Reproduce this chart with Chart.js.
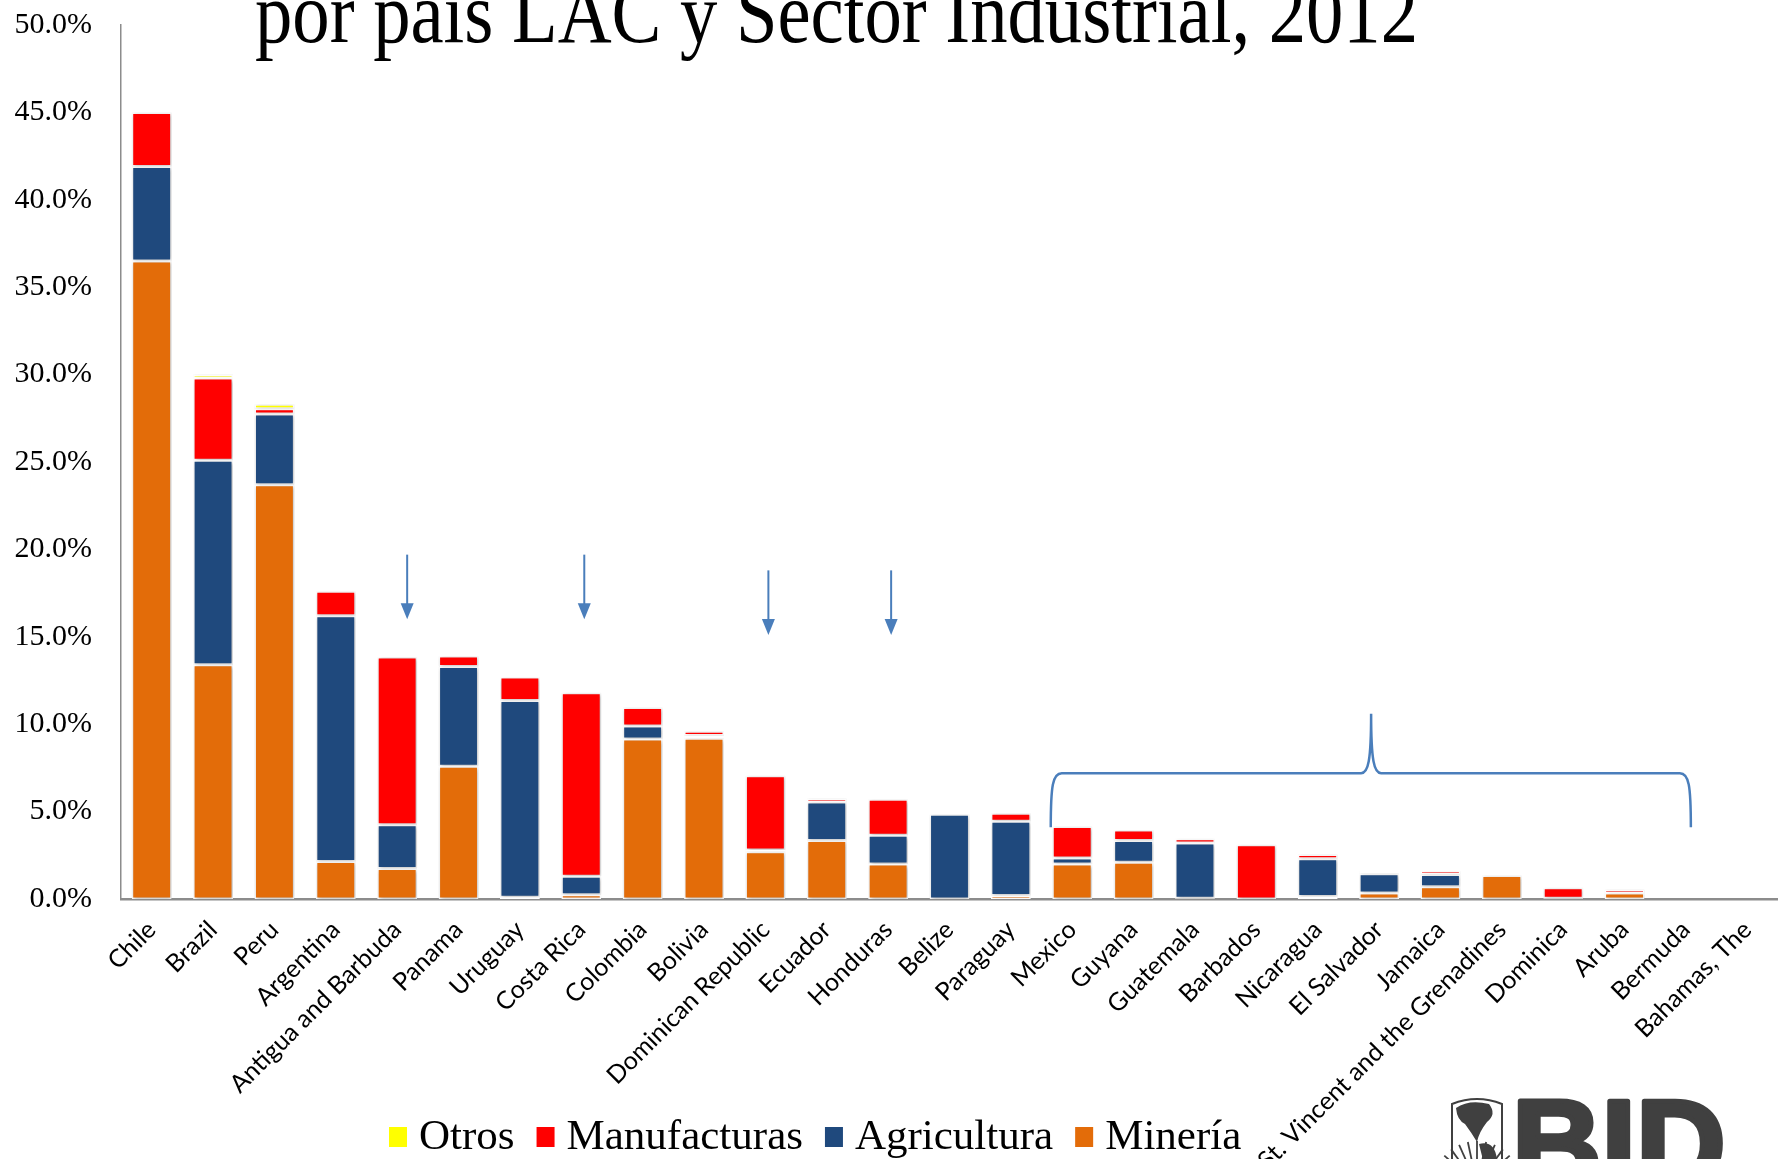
<!DOCTYPE html>
<html>
<head>
<meta charset="utf-8">
<script src="https://cdn.jsdelivr.net/npm/chart.js@4.4.1/dist/chart.umd.min.js"></script>
<style>
  html, body { margin: 0; padding: 0; background: #fff; overflow: hidden; }
  canvas { display: block; }
</style>
</head>
<body>
<canvas id="chart" width="1778" height="1159"></canvas>
<script>
// data (share of exports, %)
const countries = ['Chile','Brazil','Peru','Argentina','Antigua and Barbuda','Panama','Uruguay','Costa Rica',
  'Colombia','Bolivia','Dominican Republic','Ecuador','Honduras','Belize','Paraguay','Mexico','Guyana',
  'Guatemala','Barbados','Nicaragua','El Salvador','Jamaica','St. Vincent and the Grenadines','Dominica',
  'Aruba','Bermuda','Bahamas, The'];
const mineria      = [36.5,13.4,23.7,2.15,1.75,7.6,0.1,0.25,9.15,9.2,2.7,3.35,2.0,0,0.2,2.0,2.1,0.05,0,0.15,0.35,0.7,1.35,0.05,0.35,0,0];
const agricultura  = [5.4,11.7,4.05,14.05,2.5,5.7,11.25,1.05,0.75,0.15,0.1,2.2,1.65,4.85,4.25,0.35,1.25,3.15,0,2.15,1.1,0.7,0,0,0,0,0];
const manufacturas = [3.1,4.7,0.3,1.4,9.6,0.6,1.35,10.5,1.05,0.25,4.25,0.2,2.05,0,0.45,1.8,0.6,0.25,3.1,0.25,0.15,0.2,0,0.6,0.2,0,0];
const otros        = [0,0.2,0.25,0,0,0,0,0,0,0,0,0,0,0,0,0,0,0,0,0,0,0,0,0,0,0,0];
const yTicks = [0,5,10,15,20,25,30,35,40,45,50];

const titleText = 'por pais LAC y Sector Industrial, 2012';
const seriesNames = ['Minería','Agricultura','Manufacturas','Otros'];
const seriesColors = ['#E36C09','#1F497D','#FF0000','#FFFF00'];

// annotation arrows: category, top and tip (in % units)
const arrowCats = ['Antigua and Barbuda','Costa Rica','Dominican Republic','Honduras'];
const arrowTop  = [19.7, 19.7, 18.8, 18.8];
const arrowTip  = [16.0, 16.0, 15.1, 15.1];
// brace over the small economies (category index units / % units)
const braceX = [14.65, 19.87, 25.08];
const braceY = [4.1, 7.2, 10.6];

const ANNOT = '#4A7EBB';

const extras = {
  id: 'extras',
  beforeDatasetsDraw(chart) {
    const ctx = chart.ctx;
    ctx.save();
    ctx.shadowColor = 'rgba(0,0,0,0.28)';
    ctx.shadowBlur = 4;
    ctx.shadowOffsetX = 1;
    ctx.shadowOffsetY = 1;
  },
  afterDatasetsDraw(chart) {
    chart.ctx.restore();
  },
  afterDraw(chart) {
    const ctx = chart.ctx;
    const xs = chart.scales.x, ys = chart.scales.y;

    // title (cut off at the top, condensed)
    ctx.save();
    ctx.font = '87px "Liberation Serif"';
    ctx.fillStyle = '#000';
    ctx.textBaseline = 'alphabetic';
    const tw = ctx.measureText(titleText).width;
    ctx.translate(255, 42);
    ctx.scale(1163 / tw, 1);
    ctx.fillText(titleText, 0, 0);
    ctx.restore();

    // arrows
    ctx.save();
    ctx.strokeStyle = ANNOT;
    ctx.fillStyle = ANNOT;
    ctx.lineWidth = 2;
    arrowCats.forEach((c, i) => {
      const x = xs.getPixelForValue(countries.indexOf(c)) + (i === 0 ? 10 : 3);
      const y0 = ys.getPixelForValue(arrowTop[i]);
      const y1 = ys.getPixelForValue(arrowTip[i]);
      ctx.beginPath();
      ctx.moveTo(x, y0);
      ctx.lineTo(x, y1 - 14);
      ctx.stroke();
      ctx.beginPath();
      ctx.moveTo(x - 6.5, y1 - 16);
      ctx.lineTo(x + 6.5, y1 - 16);
      ctx.lineTo(x, y1);
      ctx.closePath();
      ctx.fill();
    });

    // brace
    const xL = xs.getPixelForValue(braceX[0]);
    const xP = xs.getPixelForValue(braceX[1]);
    const xR = xs.getPixelForValue(braceX[2]);
    const yB = ys.getPixelForValue(braceY[0]);
    const yL = ys.getPixelForValue(braceY[1]);
    const yP = ys.getPixelForValue(braceY[2]);
    ctx.lineWidth = 2.5;
    ctx.beginPath();
    ctx.moveTo(xL, yB);
    ctx.bezierCurveTo(xL, yL + 12, xL + 2, yL, xL + 11, yL);
    ctx.lineTo(xP - 10, yL);
    ctx.bezierCurveTo(xP - 3, yL, xP, yL - 12, xP, yP);
    ctx.bezierCurveTo(xP, yL - 12, xP + 3, yL, xP + 10, yL);
    ctx.lineTo(xR - 11, yL);
    ctx.bezierCurveTo(xR - 2, yL, xR, yL + 12, xR, yB);
    ctx.stroke();
    ctx.restore();

    // legend (reverse of stacking order)
    ctx.save();
    ctx.font = '43px "Liberation Serif"';
    ctx.textBaseline = 'alphabetic';
    let lx = 389;
    for (let i = seriesNames.length - 1; i >= 0; i--) {
      ctx.fillStyle = seriesColors[i];
      ctx.fillRect(lx, 1127, 18, 20);
      ctx.fillStyle = '#000';
      ctx.fillText(seriesNames[i], lx + 30, 1149);
      lx += 30 + ctx.measureText(seriesNames[i]).width + 22;
    }
    ctx.restore();

    // BID logo, cut at the bottom
    ctx.save();
    const g = '#404040';
    const cx = 1477;
    ctx.strokeStyle = g;
    ctx.fillStyle = g;
    ctx.lineWidth = 2;
    ctx.beginPath();
    ctx.moveTo(cx - 25, 1170);
    ctx.lineTo(cx - 25, 1104);
    ctx.quadraticCurveTo(cx, 1094, cx + 25, 1104);
    ctx.lineTo(cx + 25, 1170);
    ctx.stroke();
    // rays
    ctx.lineWidth = 1.8;
    for (let a = -60; a <= 60; a += 12) {
      const r = a * Math.PI / 180;
      ctx.beginPath();
      ctx.moveTo(cx + Math.sin(r) * 18, 1185 - Math.cos(r) * 18);
      ctx.lineTo(cx + Math.sin(r) * 44, 1185 - Math.cos(r) * 44);
      ctx.stroke();
    }
    // continents
    ctx.beginPath();
    ctx.moveTo(cx - 21, 1108);
    ctx.quadraticCurveTo(cx - 8, 1099, cx + 12, 1104);
    ctx.quadraticCurveTo(cx + 20, 1114, cx + 10, 1122);
    ctx.quadraticCurveTo(cx + 2, 1132, cx, 1142);
    ctx.quadraticCurveTo(cx - 6, 1132, cx - 12, 1124);
    ctx.quadraticCurveTo(cx - 20, 1120, cx - 21, 1108);
    ctx.fill();
    ctx.beginPath();
    ctx.moveTo(cx + 2, 1144);
    ctx.quadraticCurveTo(cx + 18, 1140, cx + 20, 1160);
    ctx.lineTo(cx + 6, 1160);
    ctx.closePath();
    ctx.fill();
    ctx.font = 'bold 124px "Liberation Sans"';
    ctx.textBaseline = 'alphabetic';
    ctx.lineWidth = 5;
    ctx.lineJoin = 'round';
    ctx.fillText('BID', 1512, 1187);
    ctx.strokeText('BID', 1512, 1187);
    ctx.restore();
  }
};

const datasets = [mineria, agricultura, manufacturas, otros].map((vals, i) => ({
  label: seriesNames[i],
  data: vals,
  backgroundColor: seriesColors[i],
  borderColor: '#ffffff',
  borderWidth: 1.5,
  borderSkipped: false,
  barPercentage: 0.65,
  categoryPercentage: 1.0
}));

new Chart(document.getElementById('chart'), {
  type: 'bar',
  data: { labels: countries, datasets },
  options: {
    responsive: false,
    devicePixelRatio: 1,
    animation: false,
    layout: { padding: { top: 25, right: 0, left: 0, bottom: 0 } },
    plugins: {
      legend: { display: false },
      tooltip: { enabled: false },
      title: { display: false }
    },
    scales: {
      x: {
        stacked: true,
        grid: { display: false, drawTicks: false },
        border: { display: true, color: '#8c8c8c', width: 2.5 },
        ticks: {
          autoSkip: false,
          maxRotation: 45,
          minRotation: 45,
          padding: 16,
          color: '#000',
          font: { family: 'Lato', size: 25 }
        },
        afterFit(s) { s.height = 260; s.paddingLeft = 0; s.paddingRight = 0; }
      },
      y: {
        stacked: true,
        min: 0,
        max: 50,
        grid: { display: false, drawTicks: false },
        border: { display: true, color: '#8c8c8c', width: 1.5 },
        afterBuildTicks(s) { s.ticks = yTicks.map(v => ({ value: v })); },
        ticks: {
          padding: 29,
          color: '#000',
          font: { family: 'Liberation Serif', size: 30 },
          callback: v => v.toFixed(1) + '%'
        },
        afterFit(s) { s.width = 121; s.paddingTop = 0; s.paddingBottom = 0; }
      }
    }
  },
  plugins: [extras]
});
</script>
</body>
</html>
